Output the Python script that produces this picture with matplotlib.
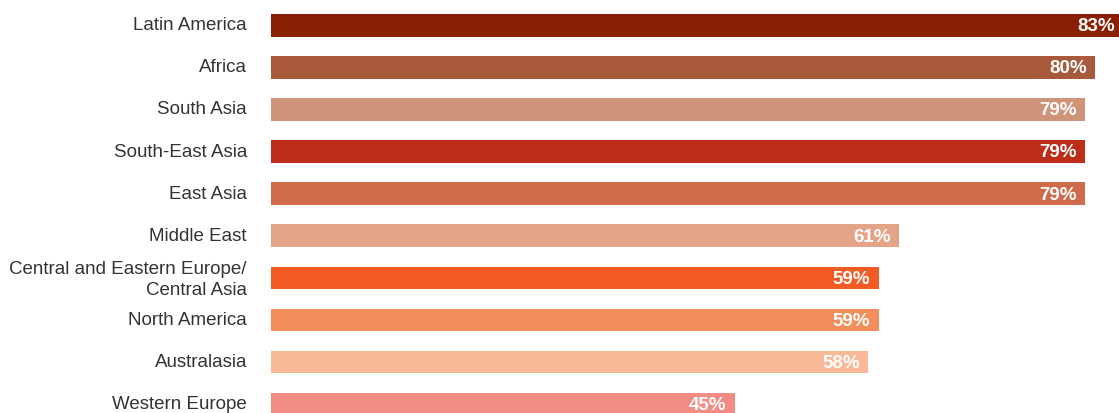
import matplotlib
matplotlib.use('Agg')
import matplotlib.pyplot as plt
import matplotlib.transforms as mtransforms

regions = ['Latin America', 'Africa', 'South Asia', 'South-East Asia', 'East Asia',
           'Middle East', 'Central and Eastern Europe/\nCentral Asia', 'North America',
           'Australasia', 'Western Europe']
shares = [83, 80, 79, 79, 79, 61, 59, 59, 58, 45]
colors = ['#8a1f04', '#aa5a3c', '#cf937a', '#be2c1a', '#cf6b4a',
          '#e3a488', '#f25c24', '#f58d5a', '#f9b896', '#f28b82']

plt.rcParams['font.family'] = ['Liberation Sans', 'DejaVu Sans']

fig = plt.figure(figsize=(11.19, 4.13), dpi=100)
ax = fig.add_axes([271 / 1119, 0, 1 - 271 / 1119, 1])

pos = list(range(len(regions)))
ax.barh(pos, shares, height=0.54, color=colors)
ax.set_xlim(0, 82.33)
ax.set_ylim(9.21, -0.601)

for y, v in zip(pos, shares):
    xe = min(v, 82.33)
    dx = -6 if v <= 82.33 else -3
    ax.annotate(f'{v}%', (xe, y), xytext=(dx, -1), textcoords='offset points',
                ha='right', va='center', color='white', fontsize=13.5,
                fontweight='bold')

ax.set_yticks(pos)
ax.set_yticklabels(regions, fontsize=13.5, color='#333333', linespacing=1.3)
ax.tick_params(axis='y', length=0, pad=17.3)
ax.tick_params(axis='x', bottom=False, labelbottom=False)
# nudge the category names up a touch
shift = mtransforms.ScaledTranslation(0, 1.5 / 100, fig.dpi_scale_trans)
for lbl in ax.get_yticklabels():
    lbl.set_transform(lbl.get_transform() + shift)
for s in ax.spines.values():
    s.set_visible(False)

fig.savefig('out.png', dpi=100)
